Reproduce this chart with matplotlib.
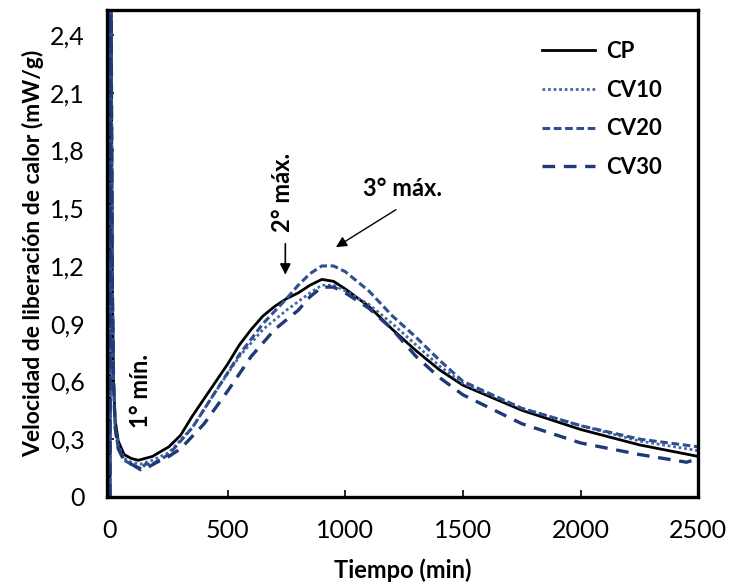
import matplotlib.pyplot as plt

# Datos (tiempo en min, velocidad en mW/g)
t_cp = [0, 3, 6, 10, 15, 22, 35, 60, 90, 120, 180, 250, 300, 350, 400, 450, 500, 550, 600,
        650, 700, 750, 800, 850, 900, 950, 1000, 1100, 1200, 1300, 1400, 1500, 1750, 2000,
        2250, 2500]
cp = [0, 3.0, 2.2, 1.1, 0.6, 0.4, 0.29, 0.22, 0.2, 0.19, 0.21, 0.26, 0.32, 0.42, 0.51, 0.6,
      0.69, 0.79, 0.87, 0.94, 0.99, 1.03, 1.06, 1.1, 1.13, 1.12, 1.08, 0.99, 0.87, 0.76, 0.66,
      0.58, 0.45, 0.35, 0.27, 0.21]

t_cv10 = [0, 3, 6, 10, 15, 22, 35, 60, 90, 130, 180, 250, 350, 450, 550, 650, 750, 850, 900,
          950, 1000, 1100, 1200, 1300, 1400, 1500, 1750, 2000, 2250, 2500]
cv10 = [0, 3.0, 2.2, 1.1, 0.6, 0.38, 0.27, 0.2, 0.18, 0.17, 0.19, 0.23, 0.36, 0.55, 0.73, 0.87,
        0.97, 1.06, 1.1, 1.1, 1.07, 1.0, 0.9, 0.79, 0.68, 0.59, 0.46, 0.37, 0.29, 0.24]

t_cv20 = [0, 3, 6, 10, 15, 22, 35, 60, 90, 130, 150, 180, 250, 350, 450, 550, 650, 750, 800,
          850, 900, 950, 1000, 1100, 1200, 1300, 1400, 1500, 1750, 2000, 2250, 2500]
cv20 = [0, 3.0, 2.2, 1.1, 0.6, 0.36, 0.25, 0.19, 0.17, 0.14, 0.17, 0.17, 0.22, 0.36, 0.55, 0.74,
        0.9, 1.03, 1.1, 1.16, 1.2, 1.2, 1.17, 1.07, 0.94, 0.83, 0.71, 0.6, 0.46, 0.37, 0.3, 0.26]

t_cv30 = [0, 3, 6, 10, 15, 22, 35, 60, 90, 140, 200, 250, 300, 400, 500, 600, 700, 800, 850,
          900, 950, 1000, 1100, 1200, 1300, 1400, 1500, 1750, 2000, 2250, 2450, 2500]
cv30 = [0, 3.0, 2.2, 1.1, 0.6, 0.36, 0.25, 0.19, 0.17, 0.14, 0.18, 0.21, 0.25, 0.38, 0.55, 0.73,
        0.87, 0.97, 1.04, 1.09, 1.09, 1.06, 0.98, 0.87, 0.73, 0.62, 0.53, 0.38, 0.28, 0.22, 0.18,
        0.2]

x_ticks = [0, 500, 1000, 1500, 2000, 2500]
y_ticks = [0, 0.3, 0.6, 0.9, 1.2, 1.5, 1.8, 2.1, 2.4]
y_labels = ["0", "0,3", "0,6", "0,9", "1,2", "1,5", "1,8", "2,1", "2,4"]

plt.rcParams['font.family'] = ['Lato', 'DejaVu Sans']

fig = plt.figure(figsize=(7.29, 5.88), dpi=100)
ax = fig.add_axes([0.147, 0.155, 0.811, 0.828])

ax.plot(t_cp, cp, color="black", lw=2.0, label="CP")
ax.plot(t_cv10, cv10, color="#4a66a8", lw=2.0, ls=(0, (1, 1)), label="CV10")
ax.plot(t_cv20, cv20, color="#2f4f8f", lw=2.2, ls=(0, (2.5, 1.2)), label="CV20")
ax.plot(t_cv30, cv30, color="#1f3a78", lw=2.4, ls=(0, (3.8, 2.6)), label="CV30")

ax.set_xlim(-12, 2500)
ax.set_ylim(0, 2.53)
ax.set_xticks(x_ticks)
ax.set_yticks(y_ticks)
ax.set_yticklabels(y_labels)
ax.tick_params(direction="in", length=5, width=1.2, labelsize=18, pad=16)
for s in ax.spines.values():
    s.set_linewidth(2.4)

ax.set_xlabel("Tiempo (min)", fontsize=17, fontweight="bold", labelpad=12)
ax.set_ylabel("Velocidad de liberación de calor (mW/g)", fontsize=16.5, fontweight="bold",
              labelpad=4)

# Anotaciones
ax.text(130, 0.55, "1° mín.", rotation=90, fontsize=17, fontweight="bold",
        ha="center", va="center")
ax.text(731, 1.58, "2° máx.", rotation=90, fontsize=17, fontweight="bold",
        ha="center", va="center")
ax.annotate("", xy=(745, 1.14), xytext=(745, 1.33),
            arrowprops=dict(arrowstyle="-|>", color="black", lw=1.2, mutation_scale=16))
ax.text(1241, 1.6, "3° máx.", fontsize=17, fontweight="bold", ha="center", va="center")
ax.annotate("", xy=(950, 1.29), xytext=(1225, 1.5),
            arrowprops=dict(arrowstyle="-|>", color="black", lw=1.0, mutation_scale=16))

leg = ax.legend(loc="upper left", frameon=False, fontsize=16, handlelength=2.4,
                labelspacing=0.8, handletextpad=0.5, borderaxespad=0,
                bbox_to_anchor=(0.72, 0.955))
for txt in leg.get_texts():
    txt.set_fontweight("bold")

plt.savefig("out.png", dpi=100)
